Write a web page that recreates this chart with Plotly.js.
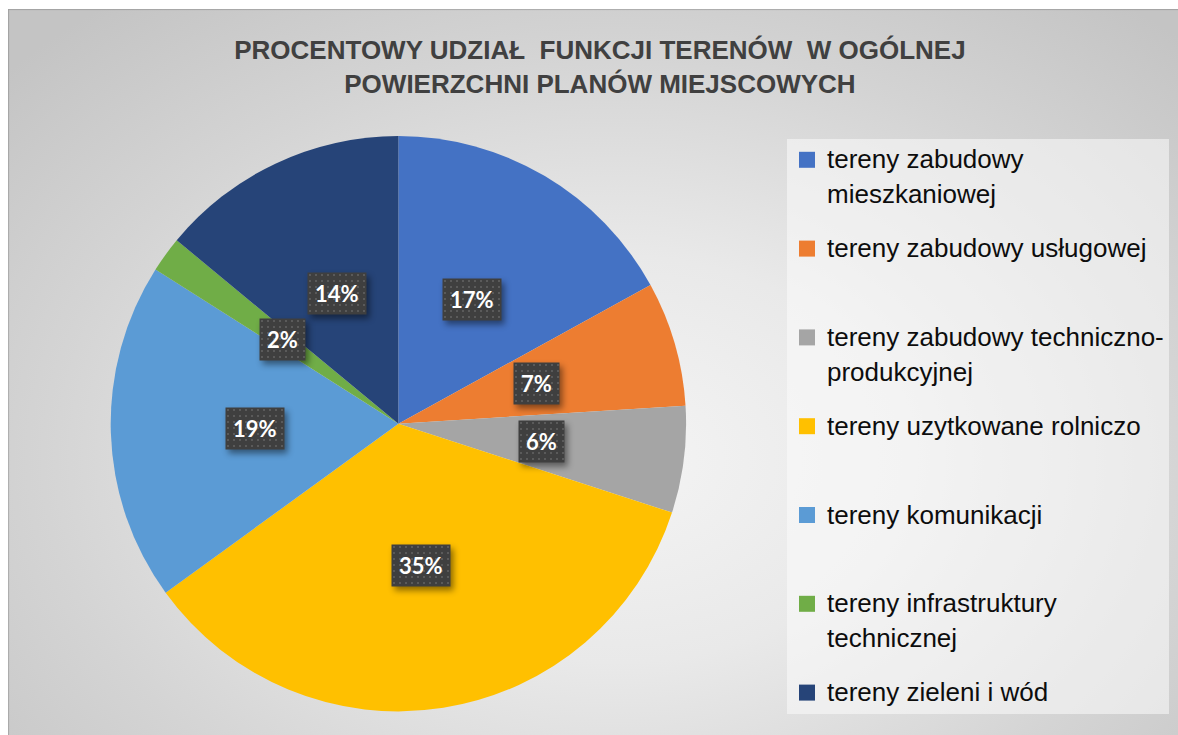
<!DOCTYPE html>
<html>
<head>
<meta charset="utf-8">
<script src="https://cdn.plot.ly/plotly-3.0.1.min.js"></script>
<style>
html,body{margin:0;padding:0;background:#ffffff;}
#wrap{position:relative;width:1178px;height:735px;overflow:hidden;}
#bg{position:absolute;left:8px;top:9px;width:1170px;height:726px;
  background:radial-gradient(ellipse 70% 80% at 52% 62%, #f4f4f4 0%, #e9e9e9 35%, #d4d4d4 70%, #c4c4c4 100%);
  box-shadow: inset 1px 1px 1px rgba(0,0,0,0.18);}
#chart{position:absolute;left:0;top:0;width:1178px;height:735px;}
#chart .annotation rect.bg{filter:drop-shadow(3px 4px 3px rgba(0,0,0,0.45));}
</style>
</head>
<body>
<div id="wrap"><div id="bg"></div><div id="chart"></div></div>
<script>
// ---- data ----
const categories = [
  'tereny zabudowy<br>mieszkaniowej',
  'tereny zabudowy usługowej',
  'tereny zabudowy techniczno-<br>produkcyjnej',
  'tereny uzytkowane rolniczo',
  'tereny komunikacji',
  'tereny infrastruktury<br>technicznej',
  'tereny zieleni i wód'
];
const shares = [17, 7, 6, 35, 19, 2, 14];
const sliceColors = ['#4472C4', '#ED7D31', '#A5A5A5', '#FFC000', '#5B9BD5', '#70AD47', '#264478'];
const titleLines = [
  'PROCENTOWY UDZIAŁ\u00A0 FUNKCJI TERENÓW\u00A0 W OGÓLNEJ',
  'POWIERZCHNI PLANÓW MIEJSCOWYCH'
];

// ---- legend text: each entry padded to equal slots, first line aligned with symbol ----
function legendLabel(name, idx) {
  const lines = name.split('<br>').map((l, k) => {
    const st = k === 0 ? 'font-size:26px' : 'font-size:26px;baseline-shift:-6px';
    return '<span style="' + st + '">' + l + '</span>';
  });
  if (idx < categories.length - 1) { while (lines.length < 3) lines.push(' '); }
  return lines.join('<br>');
}

const trace = {
  type: 'pie',
  labels: categories.map(legendLabel),
  values: shares,
  sort: false,
  direction: 'clockwise',
  rotation: 0,
  marker: {colors: sliceColors, line: {width: 0}},
  textinfo: 'none',
  hoverinfo: 'skip',
  domain: {x: [0.09397, 0.58243], y: [0.03211, 0.81497]}
};

const layout = {
  width: 1178, height: 735,
  margin: {l: 0, r: 0, t: 0, b: 0},
  paper_bgcolor: 'rgba(0,0,0,0)',
  plot_bgcolor: 'rgba(0,0,0,0)',
  showlegend: true,
  title: {
    text: titleLines.join('<br>'),
    font: {family: 'Liberation Sans, Arial, sans-serif', size: 26, color: '#404040', weight: 700},
    x: 0.5093, xanchor: 'center', xref: 'paper',
    y: 1 - 59 / 735, yanchor: 'top', yref: 'container'
  },
  legend: {
    x: 787 / 1178, xanchor: 'left',
    y: 1 - 139 / 735, yanchor: 'top',
    bgcolor: 'rgba(252,252,252,0.55)',
    borderwidth: 0,
    valign: 'top',
    font: {family: 'Liberation Sans, Arial, sans-serif', size: 22, color: '#0d0d0d'}
  }
};

const total = shares.reduce((a, b) => a + b, 0);

function decorate(gd) {
  gd.querySelectorAll('.legend .legendpoints path').forEach(p => p.setAttribute('d', 'M8,8H-8V-8H8Z'));
  const svg = gd.querySelector('svg.main-svg');
  const ns = 'http://www.w3.org/2000/svg';
  let defs = svg.querySelector('defs');
  if (!defs) { defs = document.createElementNS(ns, 'defs'); svg.insertBefore(defs, svg.firstChild); }
  const pat = document.createElementNS(ns, 'pattern');
  pat.setAttribute('id', 'dotpat');
  pat.setAttribute('width', '6'); pat.setAttribute('height', '6');
  pat.setAttribute('patternUnits', 'userSpaceOnUse');
  const base = document.createElementNS(ns, 'rect');
  base.setAttribute('width', '6'); base.setAttribute('height', '6'); base.setAttribute('fill', '#3f3f3f');
  const dot = document.createElementNS(ns, 'rect');
  dot.setAttribute('x', '2'); dot.setAttribute('y', '2');
  dot.setAttribute('width', '2'); dot.setAttribute('height', '2'); dot.setAttribute('fill', '#5a5a5a');
  pat.appendChild(base); pat.appendChild(dot); defs.appendChild(pat);
  gd.querySelectorAll('.annotation rect.bg').forEach(r => { r.style.fill = 'url(#dotpat)'; });
}

Plotly.newPlot('chart', [trace], layout, {staticPlot: true, displayModeBar: false}).then(gd => {
  const cd = gd.calcdata[0];
  const cd0 = cd[0];
  const gs = gd._fullLayout._size;
  let cum = 0;
  const anns = cd.map((pt, i) => {
    let mx, my;
    if (pt.pxmid) { mx = pt.pxmid[0]; my = pt.pxmid[1]; }
    else {
      const a = 2 * Math.PI * (cum + shares[i] / 2) / total;
      mx = cd0.r * Math.sin(a); my = -cd0.r * Math.cos(a);
    }
    cum += shares[i];
    const px = cd0.cx + 0.5 * mx;
    const py = cd0.cy + 0.5 * my;
    return {
      xref: 'paper', yref: 'paper',
      x: (px - gs.l) / gs.w, y: 1 - (py - gs.t) / gs.h,
      xanchor: 'center', yanchor: 'middle',
      text: Math.round(shares[i] / total * 100) + '%',
      showarrow: false,
      font: {family: 'Lato, Open Sans, sans-serif', size: 22, color: '#ffffff', weight: 700},
      bgcolor: '#404040',
      borderpad: 7
    };
  });
  return Plotly.relayout(gd, {annotations: anns});
}).then(decorate);
</script>
</body>
</html>
